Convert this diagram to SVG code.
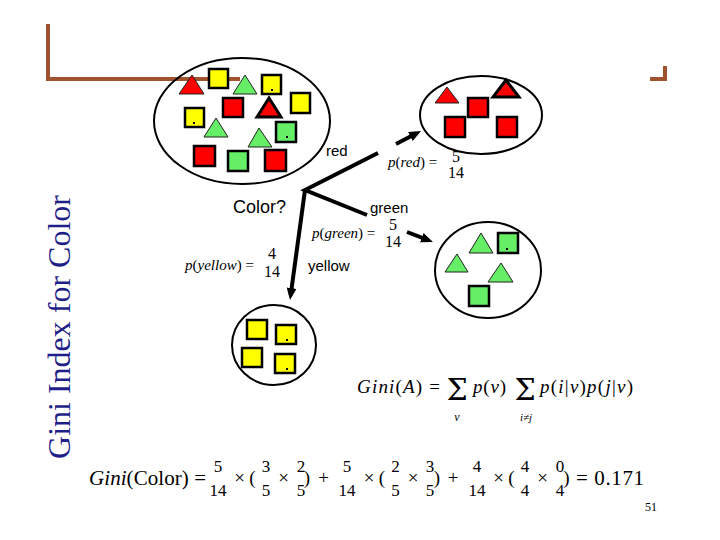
<svg xmlns="http://www.w3.org/2000/svg" width="720" height="540" viewBox="0 0 720 540">
<defs>
<style>
.sq{stroke:#000;stroke-width:2.5}
.r{fill:#FF0000}.y{fill:#FFFF00}.g{fill:#66EE66}
.tri{stroke:#222;stroke-width:1}
.trik{stroke:#000;stroke-width:3}
.ell{fill:none;stroke:#000;stroke-width:2}
.dot{fill:#000}
.lbl{font-family:"Liberation Sans",Arial,sans-serif;font-size:15px;fill:#000}
.m{font-family:"Liberation Serif","Times New Roman",serif;fill:#000}
.it{font-style:italic}
.sig{font-family:"DejaVu Serif","Liberation Serif",serif;font-size:30px}
.conn{stroke:#000;stroke-width:4;fill:none}
.frame{stroke:#A0522D;stroke-width:4;fill:none}
</style>
<marker id="ah" markerUnits="userSpaceOnUse" markerWidth="12" markerHeight="10" refX="7" refY="5" orient="auto">
<path d="M0,0 L12,5 L0,10 z" fill="#000"/>
</marker>
</defs>
<rect width="720" height="540" fill="#fff"/>
<path class="frame" d="M48,24 V79 H240"/>
<path class="frame" d="M650,79 H665 V66"/>
<text transform="translate(70,327) rotate(-90)" text-anchor="middle" font-family="'Liberation Serif','Times New Roman',serif" font-size="32" fill="#1F1F8A">Gini Index for Color</text>

<g id="node-root">
<ellipse class="ell" cx="242" cy="121" rx="88" ry="63"/>
<polygon class="r tri" points="192,75 179,94 204,94"/>
<rect class="sq y" x="209" y="69" width="19" height="19"/>
<polygon class="g tri" points="245,75 233,94 257,94"/>
<rect class="sq y" x="262" y="75" width="19" height="19"/><rect class="dot" x="271" y="89" width="2" height="2"/>
<rect class="sq r" x="223" y="98" width="20" height="19"/>
<polygon class="r trik" points="269,98 257,117 281,117"/>
<rect class="sq y" x="291" y="93" width="19" height="20"/>
<rect class="sq y" x="185" y="108" width="19" height="19"/><rect class="dot" x="193" y="122" width="2" height="2"/>
<polygon class="g tri" points="216,118 204,137 228,137"/>
<polygon class="g tri" points="259,128 248,147 272,147"/>
<rect class="sq g" x="276" y="122" width="20" height="20"/><rect class="dot" x="286" y="136" width="2" height="2"/>
<rect class="sq r" x="194" y="146" width="21" height="20"/>
<rect class="sq g" x="228" y="151" width="20" height="20"/>
<rect class="sq r" x="265" y="150" width="21" height="21"/>
</g>

<g id="node-red">
<ellipse class="ell" cx="481" cy="115" rx="61" ry="39"/>
<polygon class="r tri" points="447,87 435,103 459,103"/>
<polygon class="r trik" points="506,80 493,97 519,97"/>
<rect class="sq r" x="468" y="98" width="20" height="19"/>
<rect class="sq r" x="445" y="117" width="20" height="20"/>
<rect class="sq r" x="497" y="117" width="20" height="20"/>
</g>

<g id="node-green">
<ellipse class="ell" cx="488" cy="270" rx="53" ry="48"/>
<polygon class="g tri" points="481,233 469,253 493,253"/>
<rect class="sq g" x="498" y="233" width="20" height="20"/><rect class="dot" x="506" y="248" width="2" height="2"/>
<polygon class="g tri" points="457,254 445,272 468,272"/>
<polygon class="g tri" points="501,263 488,282 513,282"/>
<rect class="sq g" x="469" y="286" width="20" height="20"/>
</g>

<g id="node-yellow">
<ellipse class="ell" cx="274" cy="345" rx="42" ry="40"/>
<rect class="sq y" x="247" y="320" width="20" height="19"/>
<rect class="sq y" x="276" y="325" width="20" height="19"/><rect class="dot" x="286" y="339" width="2" height="2"/>
<rect class="sq y" x="242" y="348" width="20" height="19"/>
<rect class="sq y" x="275" y="354" width="20" height="19"/><rect class="dot" x="286" y="368" width="2" height="2"/>
</g>

<g id="connectors">
<path class="conn" d="M378,153 L305,190 L367,215"/>
<line class="conn" x1="305" y1="190" x2="290.7" y2="295" marker-end="url(#ah)"/>
<line class="conn" x1="396" y1="144" x2="416.6" y2="133.3" marker-end="url(#ah)"/>
<line class="conn" x1="407" y1="232" x2="428.3" y2="240.2" marker-end="url(#ah)"/>
</g>

<g id="labels">
<text class="lbl" x="326" y="156">red</text>
<text class="lbl" x="370" y="213">green</text>
<text class="lbl" x="308" y="271">yellow</text>
<text x="233" y="213" font-family="'Liberation Sans',Arial,sans-serif" font-size="18" fill="#000">Color?</text>
</g>

<g id="formulas" class="m">
<text x="388" y="167" font-size="15"><tspan class="it">p</tspan>(<tspan class="it">red</tspan>) =</text>
<text x="456" y="162" font-size="16" text-anchor="middle">5</text>
<text x="456" y="178" font-size="16" text-anchor="middle">14</text>

<text x="312" y="238" font-size="15"><tspan class="it">p</tspan>(<tspan class="it">green</tspan>) =</text>
<text x="393" y="230" font-size="16" text-anchor="middle">5</text>
<text x="393" y="247" font-size="16" text-anchor="middle">14</text>

<text x="185" y="270" font-size="15"><tspan class="it">p</tspan>(<tspan class="it">yellow</tspan>) =</text>
<text x="272" y="259" font-size="16" text-anchor="middle">4</text>
<text x="272" y="277" font-size="16" text-anchor="middle">14</text>

<text x="357" y="393" font-size="19" textLength="83" lengthAdjust="spacing"><tspan class="it">Gini</tspan>(<tspan class="it">A</tspan>) =</text>
<text x="457" y="400" class="sig" text-anchor="middle">Σ</text>
<text x="457" y="421" font-size="12" text-anchor="middle" class="it">v</text>
<text x="473" y="393" font-size="19" textLength="33" lengthAdjust="spacing"><tspan class="it">p</tspan>(<tspan class="it">v</tspan>)</text>
<text x="525" y="400" class="sig" text-anchor="middle">Σ</text>
<text x="526" y="421" font-size="11" text-anchor="middle" class="it">i≠j</text>
<text x="540" y="393" font-size="19" textLength="93" lengthAdjust="spacing"><tspan class="it">p</tspan>(<tspan class="it">i</tspan>|<tspan class="it">v</tspan>)<tspan class="it">p</tspan>(<tspan class="it">j</tspan>|<tspan class="it">v</tspan>)</text>

<text x="89" y="485" font-size="21" textLength="117" lengthAdjust="spacing"><tspan class="it">Gini</tspan>(Color) =</text>
<g font-size="17" text-anchor="middle">
<text x="218" y="472">5</text><text x="218" y="496">14</text>
<text x="266" y="472">3</text><text x="266" y="496">5</text>
<text x="301" y="472">2</text><text x="301" y="496">5</text>
<text x="347" y="472">5</text><text x="347" y="496">14</text>
<text x="395.5" y="472">2</text><text x="395.5" y="496">5</text>
<text x="430" y="472">3</text><text x="430" y="496">5</text>
<text x="477" y="472">4</text><text x="477" y="496">14</text>
<text x="525" y="472">4</text><text x="525" y="496">4</text>
<text x="560" y="472">0</text><text x="560" y="496">4</text>
</g>
<g font-size="19" text-anchor="middle">
<text x="239.5" y="484">×</text><text x="252.5" y="484">(</text>
<text x="283.5" y="484">×</text><text x="307" y="484">)</text>
<text x="323.5" y="484">+</text>
<text x="369" y="484">×</text><text x="382" y="484">(</text>
<text x="413" y="484">×</text><text x="437" y="484">)</text>
<text x="453" y="484">+</text>
<text x="498.5" y="484">×</text><text x="511.5" y="484">(</text>
<text x="542.5" y="484">×</text><text x="566.5" y="484">)</text>
</g>
<text x="576" y="485" font-size="21" textLength="68" lengthAdjust="spacing">= 0.171</text>
<text x="645" y="511" font-size="12">51</text>
</g>
</svg>
